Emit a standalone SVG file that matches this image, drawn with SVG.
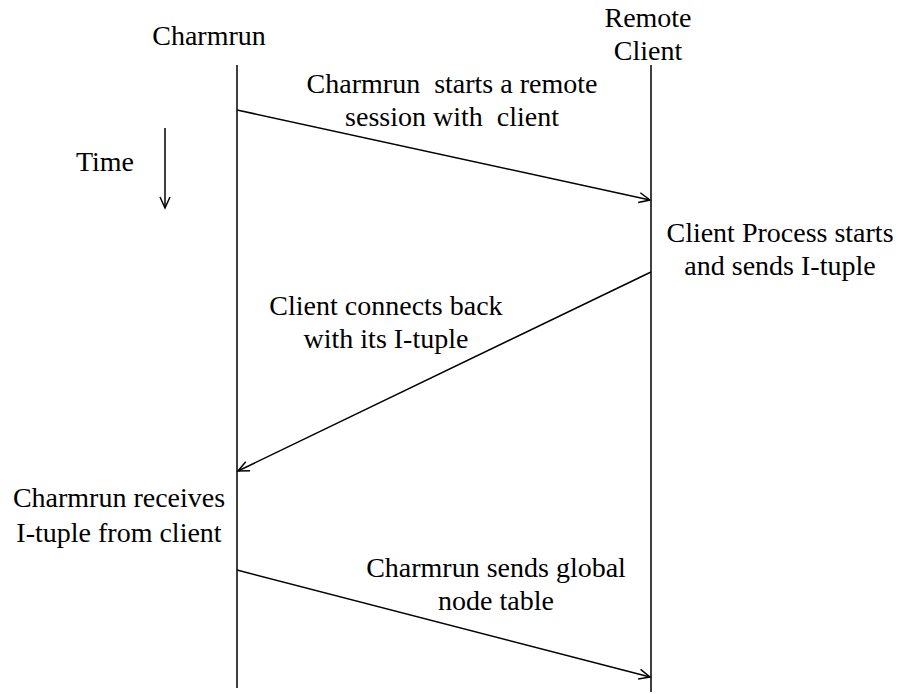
<svg xmlns="http://www.w3.org/2000/svg" width="902" height="694" viewBox="0 0 902 694">
<style>
text{font-family:"Liberation Serif","Times New Roman",serif;font-size:28px;fill:#000;text-anchor:middle}
.ln{stroke:#000;stroke-width:1.5;fill:none}
</style>
<defs>
<marker id="ah" markerUnits="userSpaceOnUse" viewBox="-12 -7 14 14" refX="0" refY="0" markerWidth="14" markerHeight="14" orient="auto" overflow="visible">
<path d="M-11,-5 L0,0 L-11,5" fill="none" stroke="#000" stroke-width="1.5"/>
</marker>
</defs>
<rect width="902" height="694" fill="#fff"/>
<g id="charmrun">
<text x="209" y="45">Charmrun</text>
<line class="ln" x1="237" y1="65" x2="237" y2="688"/>
</g>
<g id="client">
<text x="648" y="27">Remote</text>
<text x="648" y="60">Client</text>
<line class="ln" x1="651" y1="65" x2="651" y2="692"/>
</g>
<g id="time">
<text x="105" y="171">Time</text>
<line class="ln" x1="165" y1="128" x2="165" y2="208" marker-end="url(#ah)"/>
</g>
<g id="connectors">
<line class="ln" x1="237" y1="110" x2="650" y2="200" marker-end="url(#ah)"/>
<line class="ln" x1="651" y1="272" x2="238" y2="471" marker-end="url(#ah)"/>
<line class="ln" x1="237" y1="570" x2="650" y2="677" marker-end="url(#ah)"/>
</g>
<g id="labels">
<text x="452" y="93" xml:space="preserve">Charmrun  starts a remote</text>
<text x="452" y="126" xml:space="preserve">session with  client</text>
<text x="780" y="242">Client Process starts</text>
<text x="780" y="275">and sends I-tuple</text>
<text x="386" y="315">Client connects back</text>
<text x="386" y="348">with its I-tuple</text>
<text x="119" y="507">Charmrun receives</text>
<text x="119" y="542">I-tuple from client</text>
<text x="496" y="577">Charmrun sends global</text>
<text x="496" y="610">node table</text>
</g>
</svg>
